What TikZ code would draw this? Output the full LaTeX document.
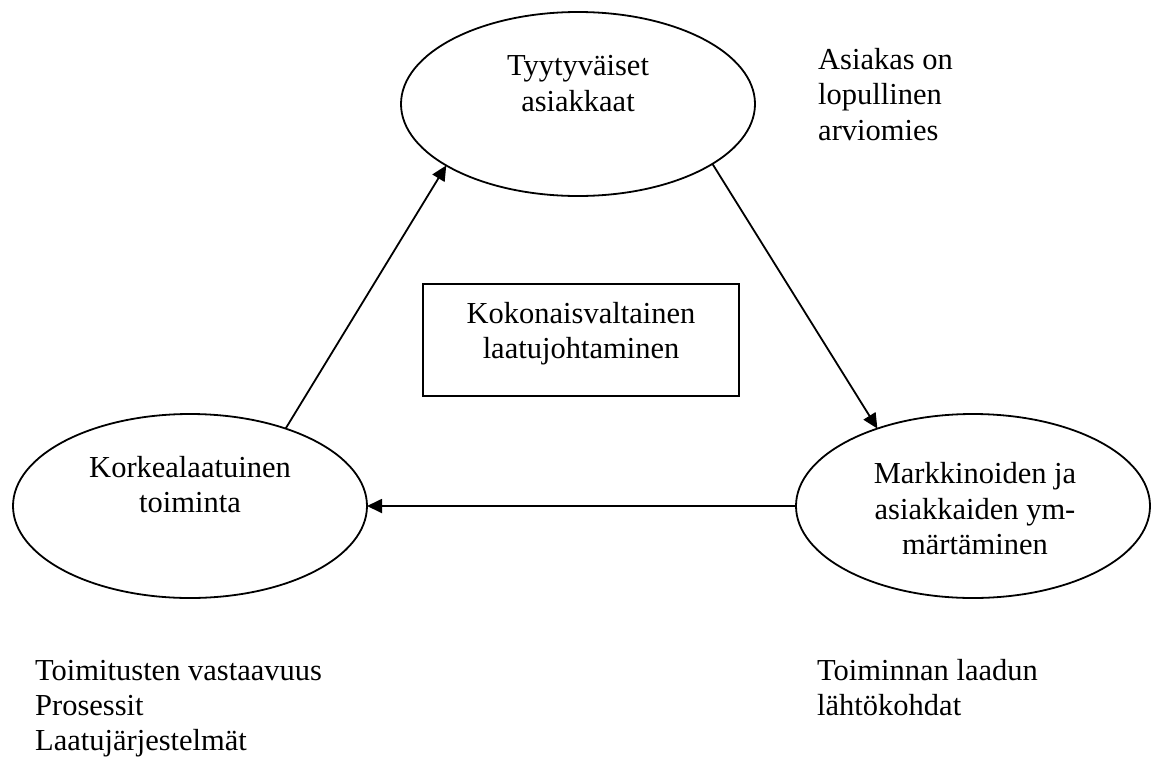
\documentclass[tikz,border=0pt]{standalone}
\usepackage{fontspec}
\setmainfont{Liberation Serif}
\usetikzlibrary{arrows.meta,shapes.geometric}
\begin{document}
\begin{tikzpicture}[x=1pt,y=-1pt,
  bubble/.style={ellipse, draw, line width=1.8pt, minimum width=354pt,
    minimum height=184pt, inner sep=0pt, outer sep=0pt},
  panel/.style={rectangle, draw, line width=2.2pt, minimum width=316pt,
    minimum height=112pt, inner sep=0pt, outer sep=0pt},
  txt/.style={anchor=base, inner sep=0pt, font=\fontsize{30.5}{35.5}\selectfont},
  ltxt/.style={txt, anchor=base west},
  flow/.style={line width=1.8pt, -{Triangle[length=15pt,width=14pt]}}]
\useasboundingbox (0,0) rectangle (1159,758);

% the three stages of the cycle and the central box
\node[bubble] (top) at (578,104) {};
\node[bubble] (left) at (190,506) {};
\node[bubble] (right) at (973,506) {};
\node[panel] (core) at (581,340) {};

% texts inside the stages
\node[txt] (top1) at (578,75) {Tyytyväiset};
\node[txt] (top2) at (578,111) {asiakkaat};
\node[txt] (left1) at (190,477) {Korkealaatuinen};
\node[txt] (left2) at (190,512) {toiminta};
\node[txt] (right1) at (975,483) {Markkinoiden ja};
\node[txt] (right2) at (975,519) {asiakkaiden ym-};
\node[txt] (right3) at (975,554) {märtäminen};
\node[txt] (core1) at (581,323) {Kokonaisvaltainen};
\node[txt] (core2) at (581,358) {laatujohtaminen};

% side notes
\node[ltxt] (n1) at (818,69) {Asiakas on};
\node[ltxt] (n2) at (818,104) {lopullinen};
\node[ltxt] (n3) at (818,140) {arviomies};
\node[ltxt] (b1) at (35,680) {Toimitusten vastaavuus};
\node[ltxt] (b2) at (35,715) {Prosessit};
\node[ltxt] (b3) at (35,750) {Laatujärjestelmät};
\node[ltxt] (r1) at (817,680) {Toiminnan laadun};
\node[ltxt] (r2) at (817,715) {lähtökohdat};

% cycle arrows
\draw[flow] (left.39.7) -- (top.205);
\draw[flow] (top.336.5) -- (right.141.1);
\draw[flow] (right.west) -- (left.east);
\end{tikzpicture}
\end{document}
